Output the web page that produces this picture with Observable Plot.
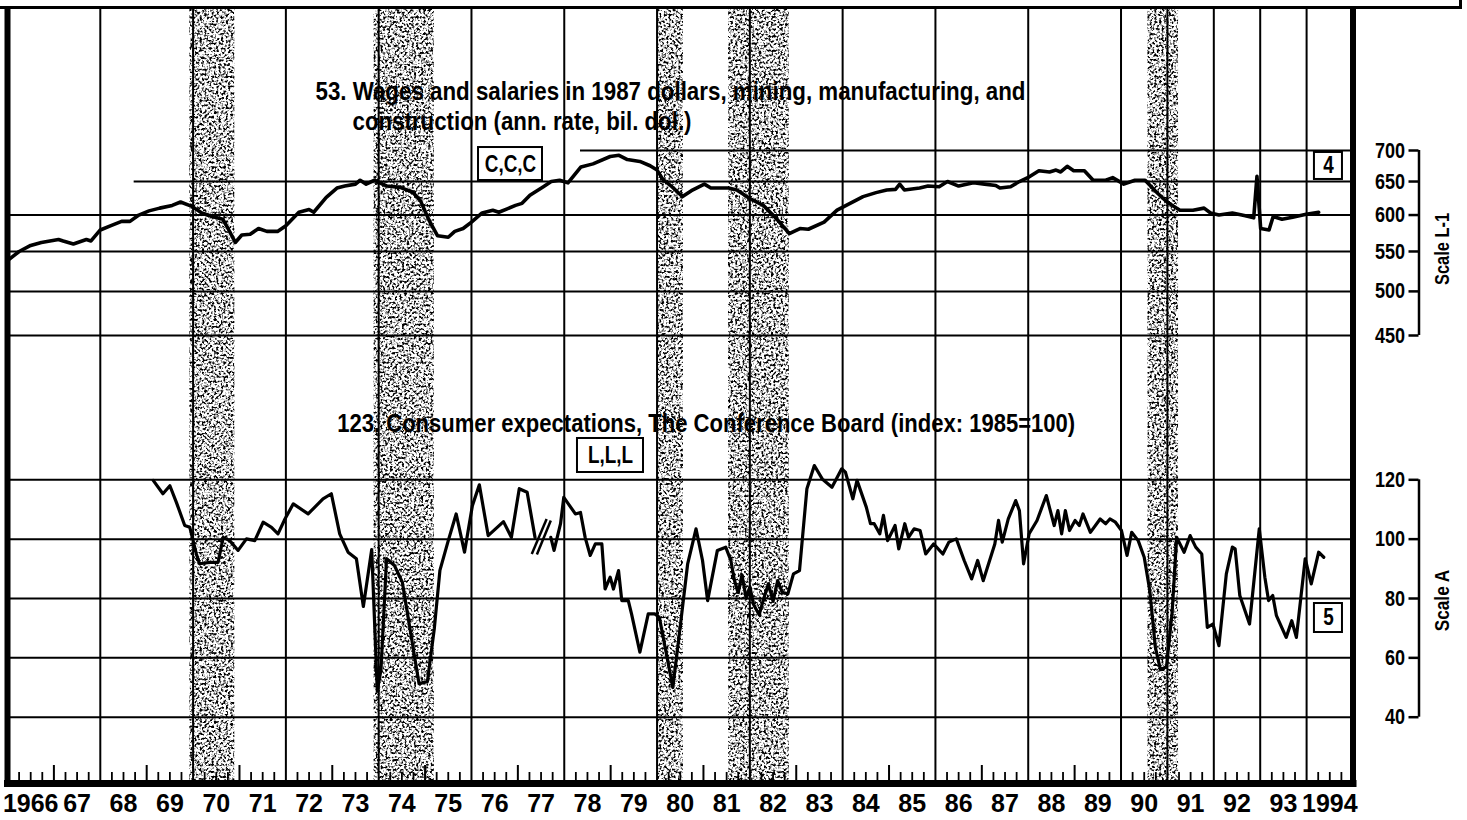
<!DOCTYPE html>
<html><head><meta charset="utf-8">
<script src="https://cdn.jsdelivr.net/npm/d3@7"></script>
<script src="https://cdn.jsdelivr.net/npm/@observablehq/plot@0.6"></script>
<style>
html,body{margin:0;padding:0;background:#fff;}
#wrap{position:relative;width:1467px;height:820px;overflow:hidden;}
#wrap svg{position:absolute;left:0;top:0;}
#topline{position:absolute;left:0;top:-2px;width:1459px;height:8px;border-bottom:3px solid #000;border-right:3px solid #000;}
</style></head>
<body><div id="wrap"><div id="topline"></div></div>
<script>
// ---------------- DATA ----------------
// Series 53: Wages and salaries in 1987 dollars (ann. rate, bil. dol.), Scale L-1 (log)
const wagesDate = [1966.0,1966.25,1966.5,1966.73,1967.1,1967.2,1967.42,1967.7,1967.8,1968.0,1968.23,1968.46,1968.64,1968.83,1969.05,1969.28,1969.55,1969.73,1969.96,1970.19,1970.41,1970.64,1970.77,1970.91,1971.05,1971.23,1971.41,1971.59,1971.82,1972.0,1972.28,1972.5,1972.6,1972.87,1973.1,1973.27,1973.5,1973.6,1973.73,1973.91,1974.18,1974.46,1974.73,1974.9,1975.09,1975.27,1975.5,1975.64,1975.82,1976.0,1976.23,1976.46,1976.59,1976.77,1976.95,1977.09,1977.26,1977.55,1977.72,1977.9,1978.08,1978.36,1978.62,1978.99,1979.18,1979.36,1979.63,1979.85,1980.0,1980.13,1980.32,1980.55,1980.74,1981.02,1981.16,1981.54,1981.72,1982.0,1982.29,1982.57,1982.85,1983.08,1983.26,1983.6,1983.88,1984.16,1984.44,1984.72,1984.95,1985.14,1985.23,1985.33,1985.66,1985.84,1986.08,1986.26,1986.5,1986.82,1987.06,1987.3,1987.39,1987.62,1987.81,1987.99,1988.23,1988.46,1988.6,1988.7,1988.84,1988.98,1989.21,1989.4,1989.67,1989.82,1990.06,1990.3,1990.52,1990.76,1990.99,1991.27,1991.55,1991.79,1991.93,1992.11,1992.4,1992.68,1992.86,1992.93,1993.01,1993.19,1993.28,1993.47,1993.7,1993.99,1994.26];
const wagesValue = [538,550,558,562,566,564,560,566,564,579,585,591,591,600,606,610,614,619,613,603,598,594,579,562,572,573,581,577,577,585,604,608,604,626,640,643,646,652,646,652,643,641,634,621,592,571,569,577,581,590,603,607,604,609,614,617,629,642,650,652,648,673,678,690,692,685,682,675,668,653,642,627,636,646,640,640,637,624,614,595,574,581,580,590,607,617,627,633,637,638,646,637,640,643,642,650,643,648,646,644,640,642,650,656,667,665,668,665,674,667,667,652,652,656,646,652,652,634,619,607,607,610,603,600,603,599,596,658,581,579,598,594,597,601,604];

// Series 123: Consumer expectations (index 1985=100), Scale A
const expectEarlyDate = [1969.14,1969.35,1969.5,1969.64,1969.82,1969.93,1970.07,1970.14,1970.36,1970.54,1970.65,1970.79,1970.97,1971.15,1971.33,1971.51,1971.69,1971.83,1971.98,1972.16,1972.48,1972.8,1972.98,1973.16,1973.34,1973.52,1973.67,1973.85,1973.97,1974.05,1974.17,1974.34,1974.51,1974.87,1975.05,1975.2,1975.32,1975.5,1975.67,1975.85,1976.02,1976.17,1976.36,1976.69,1976.86,1977.03,1977.2,1977.37];
const expectEarlyValue = [119.8,115.3,118,112.4,104.6,104,95,91.7,92.2,92.2,100.6,99.5,96.2,100.1,99.5,105.7,104,101.8,106.8,111.9,108.5,113.6,115.3,101.8,95.6,93.4,77.3,96.5,48.8,56,93.4,91.1,85.5,51.3,52,70,89.5,99.5,108.5,95.6,111.3,118.3,101.2,105.9,100.6,117,115.8,100.6];
const expectLateDate = [1977.71,1977.78,1977.92,1977.99,1978.24,1978.35,1978.45,1978.56,1978.67,1978.81,1978.88,1978.99,1979.06,1979.17,1979.24,1979.38,1979.45,1979.63,1979.81,1979.95,1980.05,1980.34,1980.48,1980.66,1980.84,1980.98,1981.09,1981.3,1981.48,1981.59,1981.67,1981.75,1981.83,1981.92,1982.0,1982.08,1982.2,1982.3,1982.4,1982.5,1982.6,1982.7,1982.82,1982.94,1983.07,1983.23,1983.39,1983.56,1983.77,1983.98,1984.06,1984.22,1984.31,1984.51,1984.6,1984.68,1984.8,1984.88,1984.97,1985.13,1985.21,1985.34,1985.42,1985.54,1985.67,1985.79,1985.96,1986.16,1986.29,1986.45,1986.62,1986.78,1986.91,1987.03,1987.28,1987.36,1987.44,1987.57,1987.73,1987.81,1987.9,1988.02,1988.19,1988.39,1988.56,1988.64,1988.72,1988.8,1988.89,1989.01,1989.1,1989.18,1989.34,1989.55,1989.67,1989.76,1989.88,1990.01,1990.13,1990.23,1990.37,1990.5,1990.62,1990.74,1990.85,1990.98,1991.1,1991.2,1991.36,1991.49,1991.61,1991.74,1991.86,1991.98,1992.11,1992.27,1992.4,1992.46,1992.56,1992.77,1992.98,1993.1,1993.18,1993.27,1993.35,1993.56,1993.68,1993.78,1993.97,1994.1,1994.26,1994.37];
const expectLateValue = [100.6,96.2,105.2,114.1,108.5,109,100.6,94.5,98.4,98.4,83.2,87.2,83.2,89.4,79.3,79.3,74.8,61.9,74.8,74.8,73.7,50,68,91.7,103.5,92.8,79.3,96.2,97.3,92.8,86,82,88,80,84,78,74.5,80,85,79,86,82,81.6,88.3,89.4,117,124.8,120.3,117.5,123.7,122.6,113.6,119.8,110.8,105.2,105.2,101.8,108,99.5,104.6,96.7,105.2,100.6,103.5,102.9,95,98.4,95,99,100.1,92.8,86.6,92.8,86,98.4,106.3,99,106.8,113,109.6,91.7,101.8,106.3,114.7,104.6,109.6,101.8,109.6,102.9,106.3,104.6,108.5,102.3,106.8,105.2,106.8,105.7,102.9,94.5,102.3,99.5,93.9,82.7,63.5,56,57,75,100.6,95.6,101.2,97.3,95,70.3,71.4,64.1,88.3,97.3,96.7,81,71.4,103.5,87.2,79.3,81,74.2,66.9,72.5,66.9,93.4,84.9,95.6,93.9];

// Recessions (peak to trough)
const recessionStart = [1969.93,1973.9,1980.02,1981.54,1990.58];
const recessionEnd   = [1970.9,1975.2,1980.57,1982.85,1991.24];

// Axis ticks and labels
const yearLabels = ["1966","67","68","69","70","71","72","73","74","75","76","77","78","79","80","81","82","83","84","85","86","87","88","89","90","91","92","93","1994"];
const gridYears = [1968,1970,1972,1974,1976,1978,1980,1982,1984,1986,1988,1990,1991,1992,1993,1994];
const oddYearTicks = [1967,1969,1971,1973,1975,1977,1979,1981,1983,1985,1987,1989];
const scaleL1Ticks = [450,500,550,600,650,700];
const scaleL1FullGrid = [450,500,550,600];
const scaleL1PartialGrid = [650,700];
const scaleL1PartialFrom = [1968.73,1978.35];
const scaleATicks = [40,60,80,100,120];

// Titles and annotation boxes (positions in data units)
const title53Text = ["53. Wages and salaries in 1987 dollars, mining, manufacturing, and","construction (ann. rate, bil. dol.)"];
const title53X = [1972.638,1973.436];
const title53Y = [805.2,749.5];
const title123Text = ["123. Consumer expectations, The Conference Board (index: 1985=100)"];
const title123X = [1973.106];
const title123Y = [364.8];
const box53Label = ["C,C,C","4"];
const box53X1 = [1976.152,1994.169], box53X2 = [1977.531,1994.773];
const box53Y1 = [651.6,653.2], box53Y2 = [705.0,696.7];
const box53CY = [676.9,674.5];
const box123Label = ["L,L,L","5"];
const box123X1 = [1978.285,1994.169], box123X2 = [1979.708,1994.773];
const box123Y1 = [122.46,68.54], box123Y2 = [133.92,78.31];
const box123CY = [128.19,73.43];
const breakX1 = [1977.30,1977.41], breakY1 = [95.0,94.8], breakX2 = [1977.62,1977.71], breakY2 = [106.8,106.3];

// ---------------- BUILD ----------------
const FONT_N = "Liberation Sans, Arial, sans-serif";          // compressed afterwards (narrow look)
const FONT_B = "'Liberation Sans',Arial,Helvetica,sans-serif"; // regular width
const TITLE_WIDTHS = {};
TITLE_WIDTHS[title53Text[0]] = 710;
TITLE_WIDTHS[title53Text[1]] = 339;
TITLE_WIDTHS[title123Text[0]] = 738;
const W = 1467, H = 820, ML = 7, MR = 114.5, MT = 8, MB = 37;
const innerH = H - MT - MB;
const AX_DX = 1411.5;

const wages = wagesDate.map((d, i) => ({date: d, value: wagesValue[i]}));
const expect = [
  ...expectEarlyDate.map((d, i) => ({date: d, value: expectEarlyValue[i], seg: "q"})),
  ...expectLateDate.map((d, i) => ({date: d, value: expectLateValue[i], seg: "m"}))
];
const recessions = recessionStart.map((s, i) => ({start: s, end: recessionEnd[i]}));
const quarterTicks = [];
for (let y = 1966; y < 1995; y++) for (const q of [0.25, 0.5, 0.75]) quarterTicks.push(y + q);
const midYears = yearLabels.map((_, i) => 1966.5 + i);
const title53 = title53Text.map((t, i) => ({text: t, x: title53X[i], y: title53Y[i]}));
const title123 = title123Text.map((t, i) => ({text: t, x: title123X[i], y: title123Y[i]}));
const partial = scaleL1PartialGrid.map((v, i) => ({v, from: scaleL1PartialFrom[i]}));
const boxes53 = box53Label.map((l, i) => ({label: l, x1: box53X1[i], x2: box53X2[i], y1: box53Y1[i], y2: box53Y2[i], cx: (box53X1[i] + box53X2[i]) / 2, cy: box53CY[i]}));
const boxes123 = box123Label.map((l, i) => ({label: l, x1: box123X1[i], x2: box123X2[i], y1: box123Y1[i], y2: box123Y2[i], cx: (box123X1[i] + box123X2[i]) / 2, cy: box123CY[i]}));
const breaks = breakX1.map((x, i) => ({x1: x, y1: breakY1[i], x2: breakX2[i], y2: breakY2[i]}));

const common = {
  width: W, height: H, marginLeft: ML, marginRight: MR, marginTop: MT, marginBottom: MB,
  style: {background: "transparent", overflow: "visible", color: "#000"}
};
const tickText = {x: 1966, dx: AX_DX - 14, text: d => String(d), textAnchor: "end", fontSize: 22, fontWeight: "bold", fontFamily: FONT_N};

const plot1 = Plot.plot({
  ...common,
  x: {domain: [1966, 1995]},
  y: {type: "log", domain: [450, 700], range: [335, 150]},
  marks: [
    Plot.text(title53, {x: "x", y: "y", text: "text", textAnchor: "start", fontSize: 26, fontWeight: "bold", fontFamily: FONT_N, fill: "#000"}),
    Plot.text(title123, {x: "x", y: "y", text: "text", textAnchor: "start", fontSize: 26, fontWeight: "bold", fontFamily: FONT_N, fill: "#000"}),
    Plot.rect(recessions, {x1: "start", x2: "end", fill: "#000"}),
    Plot.ruleX(gridYears, {strokeWidth: 2}),
    Plot.ruleX(oddYearTicks, {strokeWidth: 2, insetTop: innerH - 18}),
    Plot.ruleX(quarterTicks, {strokeWidth: 1.8, insetTop: innerH - 11}),
    Plot.ruleY(scaleL1FullGrid, {strokeWidth: 2}),
    Plot.ruleY(partial, {y: "v", x1: "from", x2: 1995, strokeWidth: 2}),
    Plot.ruleX([1966, 1995], {strokeWidth: 6}),
    Plot.frame({anchor: "bottom", strokeWidth: 7}),
    Plot.line(wages, {x: "date", y: "value", strokeWidth: 3.6, strokeLinejoin: "round"}),
    Plot.axisX(midYears, {anchor: "bottom", tickSize: 0, tickPadding: 11, tickFormat: d => yearLabels[Math.round(d - 1966.5)], fontSize: 25, fontWeight: "bold", fontFamily: FONT_B, label: null}),
    Plot.axisY(scaleL1Ticks, {anchor: "left", dx: AX_DX, tickSize: 10, tickFormat: () => "", strokeWidth: 2.5, label: null}),
    Plot.text(scaleL1Ticks, {...tickText, y: d => d}),
    Plot.ruleX([1966], {dx: AX_DX, y1: 450, y2: 700, strokeWidth: 2.5}),
    Plot.text(["Scale L-1"], {x: 1966, dx: 1435, y: 553.3, text: d => d, rotate: -90, fontSize: 20, fontWeight: "bold", fontFamily: FONT_N}),
    Plot.rect(boxes53, {x1: "x1", x2: "x2", y1: "y1", y2: "y2", fill: "#fff", stroke: "#000", strokeWidth: 2}),
    Plot.text(boxes53, {x: "cx", y: "cy", text: "label", fontSize: 23, fontWeight: "bold", fontFamily: FONT_N})
  ]
});

const plot2 = Plot.plot({
  ...common,
  x: {domain: [1966, 1995], axis: null},
  y: {domain: [40, 120], range: [716.7, 479.3]},
  marks: [
    Plot.ruleY(scaleATicks, {strokeWidth: 2}),
    Plot.line(expect, {x: "date", y: "value", z: "seg", strokeWidth: 3.2, strokeLinejoin: "round"}),
    Plot.link(breaks, {x1: "x1", y1: "y1", x2: "x2", y2: "y2", strokeWidth: 2.5}),
    Plot.axisY(scaleATicks, {anchor: "left", dx: AX_DX, tickSize: 10, tickFormat: () => "", strokeWidth: 2.5, label: null}),
    Plot.text(scaleATicks, {...tickText, y: d => d}),
    Plot.ruleX([1966], {dx: AX_DX, y1: 40, y2: 120, strokeWidth: 2.5}),
    Plot.text(["Scale A"], {x: 1966, dx: 1435, y: 79.33, text: d => d, rotate: -90, fontSize: 21, fontWeight: "bold", fontFamily: FONT_N}),
    Plot.rect(boxes123, {x1: "x1", x2: "x2", y1: "y1", y2: "y2", fill: "#fff", stroke: "#000", strokeWidth: 2}),
    Plot.text(boxes123, {x: "cx", y: "cy", text: "label", fontSize: 23, fontWeight: "bold", fontFamily: FONT_N})
  ]
});

// speckled shading for the recession bands
d3.select(plot1).insert("defs", ":first-child").html(
  '<filter id="spk" x="0" y="0" width="1" height="1" color-interpolation-filters="sRGB">' +
  '<feTurbulence type="fractalNoise" baseFrequency="0.42" numOctaves="2" seed="5" result="n"/>' +
  '<feColorMatrix in="n" type="matrix" values="0 0 0 0 0  0 0 0 0 0  0 0 0 0 0  4.5 0 0 0 -2.05" result="d"/>' +
  '<feComposite in="d" in2="SourceAlpha" operator="in"/>' +
  '</filter>');
d3.select(plot1).select('g[aria-label="rect"]').attr("filter", "url(#spk)");

const wrap = document.getElementById("wrap");
wrap.appendChild(plot1);
wrap.appendChild(plot2);

// condensed bold lettering (narrow typeface look) for titles, labels and boxes
for (const svg of [plot1, plot2]) {
  d3.select(svg).selectAll("g").filter(function () { return this.getAttribute("font-family") === FONT_N; })
    .selectAll("text").each(function () {
      const t = this.textContent;
      const len = this.getComputedTextLength();
      if (!len) return;
      const target = TITLE_WIDTHS[t] !== undefined ? TITLE_WIDTHS[t] : len * 0.82;
      this.setAttribute("textLength", target);
      this.setAttribute("lengthAdjust", "spacingAndGlyphs");
    });
}
</script>
</body></html>
